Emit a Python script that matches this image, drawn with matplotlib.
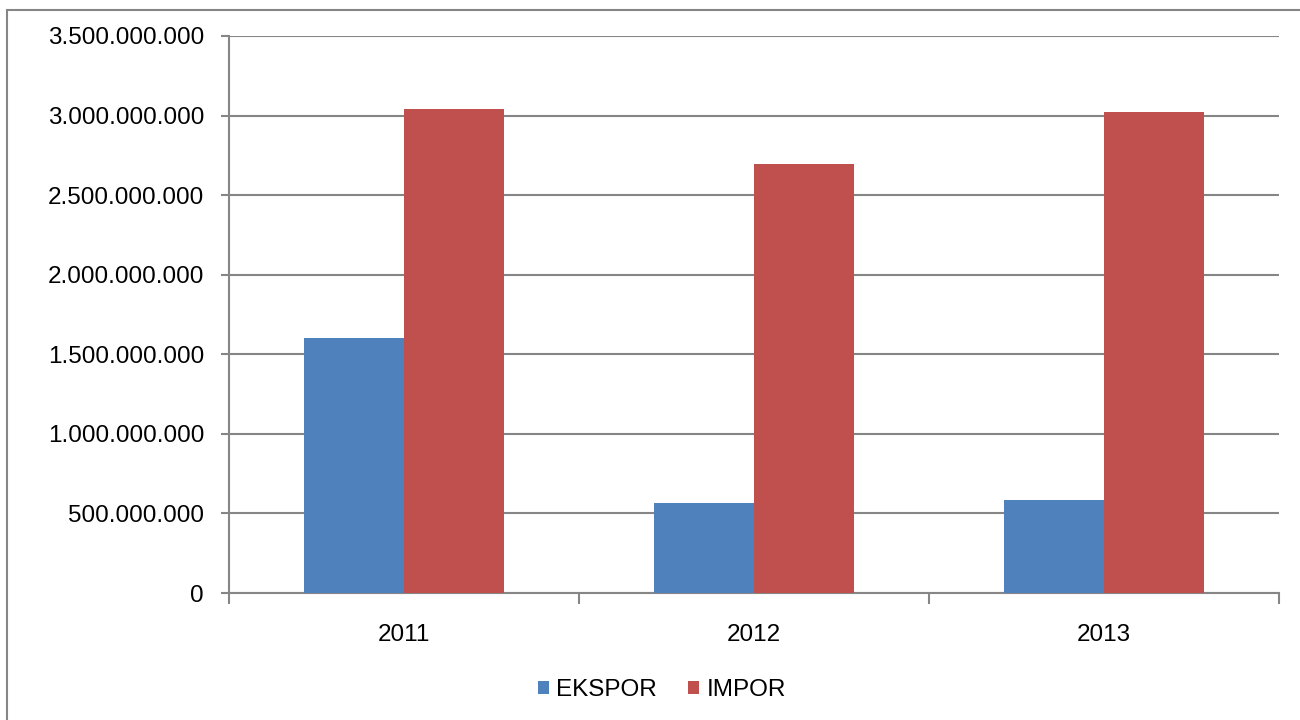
import matplotlib.pyplot as plt
import numpy as np
from matplotlib.patches import Rectangle
from matplotlib.ticker import FuncFormatter, FixedLocator

plt.rcParams['font.family'] = ['Liberation Sans', 'DejaVu Sans']

# data
years = ['2011', '2012', '2013']
ekspor = [1.60e9, 0.565e9, 0.587e9]
impor = [3.04e9, 2.695e9, 3.02e9]
series_names = ['EKSPOR', 'IMPOR']
colors = ['#4F81BD', '#C0504D']

grid_col = '#868686'
fs = 17.5

fig = plt.figure(figsize=(13, 7.2), dpi=100)
ax = fig.add_axes([229 / 1300, 1 - 593 / 720, 1050 / 1300, (593 - 36) / 720])

# outer chart border
fig.patches.append(Rectangle((7 / 1300, -0.01), 1.05, 1 - 10 / 720 + 0.01,
                             transform=fig.transFigure, fill=False,
                             edgecolor=grid_col, linewidth=1.5, zorder=0))

x = np.arange(len(years))
w = 100 / 350
ax.bar(x - w / 2, ekspor, w, color=colors[0], label=series_names[0], zorder=3)
ax.bar(x + w / 2, impor, w, color=colors[1], label=series_names[1], zorder=3)

ax.set_xlim(-0.5, len(years) - 0.5)
ax.set_ylim(0, 3.5e9)
ax.set_yticks(np.arange(0, 3.5e9 + 1, 5e8))
ax.yaxis.set_major_formatter(FuncFormatter(lambda v, p: f'{int(v):,}'.replace(',', '.')))
ax.yaxis.grid(True, color=grid_col, linewidth=1.5, zorder=0)
ax.set_axisbelow(True)

# x ticks at category boundaries, labels at centers
ax.xaxis.set_major_locator(FixedLocator(np.arange(-0.5, len(years), 1.0)))
ax.xaxis.set_major_formatter(FuncFormatter(lambda v, p: ''))
ax.set_xticks(x, minor=True)
ax.set_xticklabels(years, minor=True)
ax.tick_params(axis='x', which='minor', length=0, pad=22, labelsize=fs)
ax.tick_params(axis='x', which='major', length=8, width=1.5, color=grid_col)
ax.tick_params(axis='y', length=6, width=1.5, color=grid_col, pad=12, labelsize=fs)

for s in ['top', 'right']:
    ax.spines[s].set_visible(False)
for s in ['left', 'bottom']:
    ax.spines[s].set_color(grid_col)
    ax.spines[s].set_linewidth(1.5)

leg = fig.legend(loc='center', bbox_to_anchor=(662 / 1300, 1 - 690 / 720),
                 ncol=2, frameon=False, fontsize=fs, handlelength=0.45,
                 handleheight=0.45, handletextpad=0.3, columnspacing=1.3)

fig.savefig('out.png', dpi=100)
